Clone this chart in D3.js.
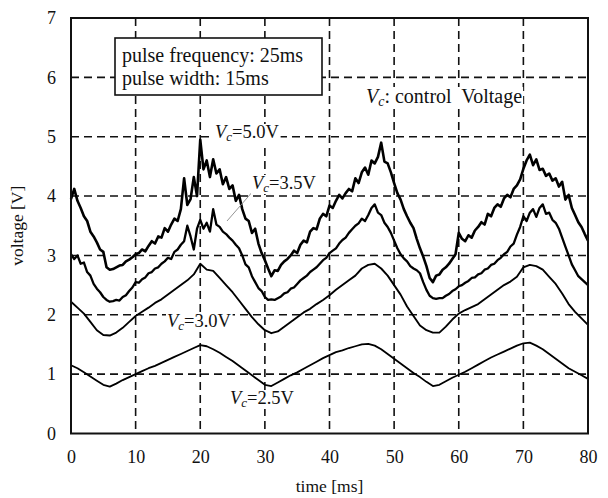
<!DOCTYPE html>
<html>
<head>
<meta charset="utf-8">
<script src="https://cdn.jsdelivr.net/npm/d3@7"></script>
<style>
  body { margin: 0; background: #fff; }
  text { font-family: "Liberation Serif", "Times New Roman", serif; fill: #111; }
</style>
</head>
<body>
<div id="chart"></div>
<script>
/* ── data ─────────────────────────────────────────────────── */
const X_TICKS = [0, 10, 20, 30, 40, 50, 60, 70, 80];
const Y_TICKS = [0, 1, 2, 3, 4, 5, 6, 7];

// sample times (ms): noisy traces every 0.5 ms, smooth traces every 1 ms
const T_HALF = d3.range(0, 80.01, 0.5);
const T_ONE  = d3.range(0, 80.01, 1);

// Vc = 5.0 V (one row = 8 ms)
const V50 = [
  3.95, 4.12, 3.92, 3.80, 3.66, 3.58, 3.40, 3.32, 3.22, 3.10, 3.06, 2.80, 2.76, 2.77, 2.80, 2.83,
  2.84, 2.90, 2.93, 2.97, 3.02, 3.04, 3.10, 3.07, 3.16, 3.24, 3.20, 3.32, 3.30, 3.46, 3.40, 3.52,
  3.62, 3.58, 3.78, 4.30, 3.85, 3.95, 4.32, 4.00, 4.95, 4.45, 4.60, 4.32, 4.62, 4.38, 4.45, 4.20,
  4.32, 4.12, 4.18, 3.92, 4.02, 3.78, 3.62, 3.58, 3.38, 3.45, 3.20, 3.04, 2.92, 2.78, 2.65, 2.75,
  2.74, 2.84, 2.90, 2.94, 3.00, 3.08, 3.04, 3.18, 3.25, 3.22, 3.40, 3.46, 3.44, 3.62, 3.70, 3.66,
  3.84, 3.80, 3.92, 4.02, 3.96, 4.05, 4.12, 4.08, 4.30, 4.22, 4.40, 4.48, 4.36, 4.60, 4.55, 4.66,
  4.90, 4.58, 4.55, 4.40, 4.22, 4.05, 3.94, 3.78, 3.66, 3.55, 3.46, 3.28, 3.12, 2.98, 2.82, 2.62,
  2.55, 2.66, 2.68, 2.76, 2.80, 2.86, 2.94, 3.02, 3.38, 3.28, 3.24, 3.34, 3.30, 3.42, 3.48, 3.56,
  3.52, 3.70, 3.66, 3.80, 3.86, 3.82, 3.96, 4.02, 3.98, 4.12, 4.18, 4.28, 4.46, 4.60, 4.70, 4.52,
  4.62, 4.44, 4.46, 4.34, 4.38, 4.26, 4.30, 4.16, 4.24, 3.94, 4.02, 3.80, 3.68, 3.56, 3.48, 3.36,
  3.25
];

// Vc = 3.5 V
const V35 = [
  3.02, 2.94, 3.00, 2.86, 2.88, 2.72, 2.66, 2.52, 2.44, 2.38, 2.30, 2.25, 2.22, 2.23, 2.25, 2.24,
  2.30, 2.33, 2.40, 2.46, 2.55, 2.54, 2.60, 2.63, 2.70, 2.72, 2.78, 2.80, 2.86, 2.90, 2.96, 2.94,
  3.06, 3.10, 3.18, 3.24, 3.50, 3.32, 3.10, 3.45, 3.60, 3.45, 3.55, 3.40, 3.78, 3.52, 3.48, 3.40,
  3.36, 3.30, 3.25, 3.18, 3.12, 3.00, 2.85, 2.80, 2.65, 2.55, 2.45, 2.40, 2.30, 2.25, 2.26, 2.25,
  2.28, 2.31, 2.36, 2.38, 2.44, 2.46, 2.52, 2.58, 2.62, 2.66, 2.72, 2.76, 2.80, 2.86, 2.92, 2.96,
  3.04, 3.08, 3.12, 3.20, 3.26, 3.30, 3.38, 3.44, 3.50, 3.54, 3.62, 3.58, 3.68, 3.80, 3.86, 3.72,
  3.68, 3.55, 3.48, 3.38, 3.25, 3.12, 3.02, 2.95, 2.90, 2.82, 2.78, 2.75, 2.70, 2.55, 2.42, 2.32,
  2.28, 2.27, 2.28, 2.28, 2.32, 2.35, 2.40, 2.43, 2.48, 2.50, 2.54, 2.57, 2.62, 2.63, 2.68, 2.70,
  2.76, 2.78, 2.84, 2.86, 2.92, 2.96, 3.02, 3.06, 3.15, 3.20, 3.35, 3.48, 3.66, 3.58, 3.72, 3.78,
  3.65, 3.80, 3.86, 3.70, 3.72, 3.60, 3.55, 3.45, 3.30, 3.15, 3.00, 2.85, 2.75, 2.65, 2.60, 2.55,
  2.50
];

// Vc = 3.0 V (one row = 16 ms)
const V30 = [
  2.22, 2.12, 2.02, 1.88, 1.74, 1.66, 1.65, 1.70, 1.78, 1.88, 1.98, 2.05, 2.12, 2.20, 2.26, 2.34,
  2.42, 2.50, 2.58, 2.68, 2.86, 2.76, 2.74, 2.62, 2.50, 2.38, 2.24, 2.10, 1.96, 1.84, 1.74, 1.69,
  1.72, 1.80, 1.88, 1.96, 2.04, 2.10, 2.18, 2.25, 2.33, 2.42, 2.50, 2.58, 2.66, 2.78, 2.84, 2.86,
  2.78, 2.66, 2.50, 2.34, 2.14, 1.98, 1.82, 1.74, 1.70, 1.70, 1.80, 1.92, 2.02, 2.08, 2.13, 2.18,
  2.26, 2.34, 2.42, 2.50, 2.56, 2.64, 2.80, 2.84, 2.82, 2.76, 2.64, 2.52, 2.36, 2.18, 2.05, 1.94,
  1.83
];

// Vc = 2.5 V
const V25 = [
  1.15, 1.10, 1.03, 0.96, 0.89, 0.82, 0.79, 0.84, 0.90, 0.95, 1.00, 1.05, 1.10, 1.14, 1.19, 1.24,
  1.29, 1.34, 1.39, 1.44, 1.49, 1.47, 1.42, 1.36, 1.29, 1.22, 1.14, 1.06, 0.98, 0.90, 0.82, 0.80,
  0.86, 0.92, 0.98, 1.03, 1.09, 1.15, 1.21, 1.27, 1.32, 1.37, 1.40, 1.44, 1.47, 1.50, 1.51, 1.48,
  1.42, 1.34, 1.26, 1.18, 1.10, 1.02, 0.95, 0.87, 0.80, 0.82, 0.88, 0.94, 0.99, 1.04, 1.10, 1.16,
  1.22, 1.28, 1.33, 1.38, 1.43, 1.48, 1.52, 1.53, 1.48, 1.42, 1.34, 1.26, 1.18, 1.10, 1.04, 0.98,
  0.92
];

/* ── layout ───────────────────────────────────────────────── */
const W = 608, H = 498;
const ML = 71, MT = 18;
const plotW = 517, plotH = 415.5;

const svg = d3.select('#chart').append('svg')
  .attr('width', W).attr('height', H);

const g = svg.append('g').attr('transform', `translate(${ML},${MT})`);

const x = d3.scaleLinear().domain([0, 80]).range([0, plotW]);
const y = d3.scaleLinear().domain([0, 7]).range([plotH, 0]);

// ── dashed grid ──────────────────────────────────────────────
const gridG = g.append('g');
gridG.selectAll('.vg').data(X_TICKS.slice(1, -1)).join('line')
  .attr('class', 'vg')
  .attr('x1', d => x(d)).attr('x2', d => x(d))
  .attr('y1', 0).attr('y2', plotH);
gridG.selectAll('.hg').data(Y_TICKS.slice(1, -1)).join('line')
  .attr('class', 'hg')
  .attr('x1', 0).attr('x2', plotW)
  .attr('y1', d => y(d)).attr('y2', d => y(d));
gridG.selectAll('line')
  .attr('stroke', '#111').attr('stroke-width', 1.6).attr('stroke-dasharray', '8,5');

// ── axes (labels only) ───────────────────────────────────────
const xAxisG = g.append('g').attr('transform', `translate(0,${plotH})`)
  .call(d3.axisBottom(x).tickValues(X_TICKS).tickFormat(d3.format('d'))
    .tickSize(0).tickPadding(17));
const yAxisG = g.append('g')
  .call(d3.axisLeft(y).tickValues(Y_TICKS).tickFormat(d3.format('d'))
    .tickSize(0).tickPadding(15));
[xAxisG, yAxisG].forEach(a => {
  a.select('.domain').remove();
  a.selectAll('text').attr('font-size', 18)
    .attr('font-family', '"Liberation Serif", serif').attr('fill', '#111');
});

svg.append('text')
  .attr('x', ML + plotW / 2).attr('y', 492)
  .attr('text-anchor', 'middle').attr('font-size', 17.5)
  .text('time [ms]');

svg.append('text')
  .attr('transform', `translate(23,${MT + plotH / 2}) rotate(-90)`)
  .attr('text-anchor', 'middle').attr('font-size', 17.5)
  .text('voltage [V]');

// ── traces ───────────────────────────────────────────────────
const line = d3.line().x(d => x(d[0])).y(d => y(d[1]));
const traces = [
  { t: T_ONE,  v: V25, w: 1.8 },
  { t: T_ONE,  v: V30, w: 1.9 },
  { t: T_HALF, v: V35, w: 2.3 },
  { t: T_HALF, v: V50, w: 2.6 },
];
g.selectAll('.trace').data(traces).join('path')
  .attr('class', 'trace')
  .attr('fill', 'none').attr('stroke', '#000')
  .attr('stroke-width', d => d.w).attr('stroke-linejoin', 'round')
  .attr('d', d => line(d.t.map((t, i) => [t, d.v[i]])));

// ── frame ────────────────────────────────────────────────────
g.append('rect')
  .attr('width', plotW).attr('height', plotH)
  .attr('fill', 'none').attr('stroke', '#111').attr('stroke-width', 2);

// ── annotations ──────────────────────────────────────────────
svg.append('rect')
  .attr('x', 115).attr('y', 38).attr('width', 207).attr('height', 57)
  .attr('fill', '#fff').attr('stroke', '#111').attr('stroke-width', 1.6);
svg.append('text').attr('x', 122).attr('y', 62).attr('font-size', 20)
  .text('pulse frequency: 25ms');
svg.append('text').attr('x', 122).attr('y', 85).attr('font-size', 20)
  .text('pulse width: 15ms');

// leader line to the 3.5 V trace
svg.append('line')
  .attr('x1', 254).attr('y1', 190).attr('x2', 227).attr('y2', 221)
  .attr('stroke', '#888').attr('stroke-width', 0.9);

function vcLabel(px, py, rest, fs) {
  const t = svg.append('text').attr('x', px).attr('y', py).attr('font-size', fs)
    .style('white-space', 'pre');
  t.append('tspan').attr('font-style', 'italic').text('V');
  t.append('tspan').attr('font-style', 'italic').attr('font-size', fs * 0.7)
    .attr('dy', 3).text('c');
  t.append('tspan').attr('dy', -3).text(rest);
  const b = t.node().getBBox();
  svg.insert('rect', () => t.node())
    .attr('x', b.x - 1).attr('y', b.y + 2).attr('width', b.width + 2).attr('height', b.height - 3)
    .attr('fill', '#fff');
}

vcLabel(215, 138, '=5.0V', 18.5);
vcLabel(252, 189, '=3.5V', 18.5);
vcLabel(167, 327, '=3.0V', 18.5);
vcLabel(230, 404, '=2.5V', 18.5);
vcLabel(366, 103, ': control  Voltage', 20);
</script>
</body>
</html>
